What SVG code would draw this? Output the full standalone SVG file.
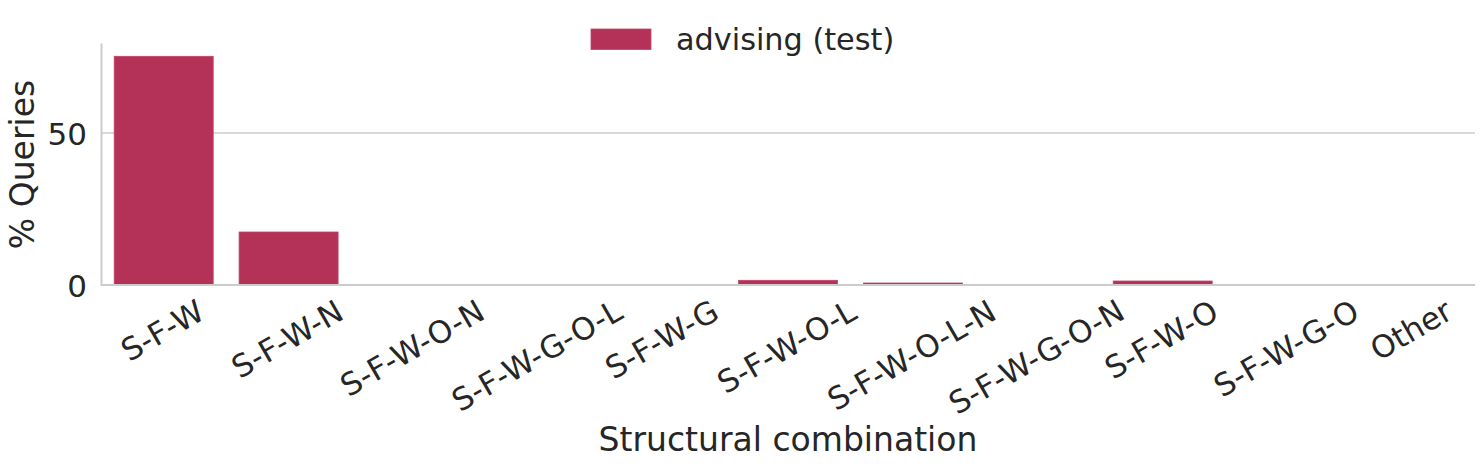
<svg xmlns="http://www.w3.org/2000/svg" width="1484" height="468" viewBox="0 0 1484 468">
  <style>
    text { font-family: "DejaVu Sans", "Liberation Sans", sans-serif; fill: #262626; }
    .tick { font-size: 31px; }
    .lab { font-size: 33px; }
    .leg { font-size: 30.3px; }
    .bar { fill: #b43157; stroke: #c04468; stroke-width: 0.8; }
    .grid { stroke: #cccccc; stroke-width: 1.5; fill: none; }
    .spine { stroke: #cccccc; stroke-width: 2; fill: none; }
  </style>
  <rect x="0" y="0" width="1484" height="468" fill="#ffffff"/>
  <g id="grid">
    <line class="grid" x1="101.5" y1="133" x2="1475" y2="133"/>
  </g>
  <g id="bars">
    <rect class="bar" x="114.2" y="56.3" width="99" height="228.7"/>
    <rect class="bar" x="239.1" y="232" width="99" height="53"/>
    <rect x="613.7" y="284" width="99" height="1" fill="#c98a9c" opacity="0.6"/>
    <rect class="bar" x="738.6" y="280.3" width="99" height="4.7"/>
    <rect class="bar" x="863.4" y="283" width="99" height="2"/>
    <rect class="bar" x="1113.2" y="281" width="99" height="4"/>
  </g>
  <g id="axes">
    <line class="spine" x1="101.5" y1="43.5" x2="101.5" y2="285"/>
    <line class="spine" x1="100.5" y1="285" x2="1475" y2="285"/>
  </g>
  <g id="yticks">
    <text class="tick" x="87" y="145" text-anchor="end">50</text>
    <text class="tick" x="87" y="297" text-anchor="end">0</text>
  </g>
  <g id="xticks">
    <text class="tick" transform="translate(163.7,332.9) rotate(-30)" y="8.2" text-anchor="middle">S-F-W</text>
    <text class="tick" transform="translate(288.6,341.5) rotate(-30)" y="8.2" text-anchor="middle">S-F-W-N</text>
    <text class="tick" transform="translate(413.5,350.4) rotate(-30)" y="8.2" text-anchor="middle">S-F-W-O-N</text>
    <text class="tick" transform="translate(538.3,357.8) rotate(-30)" y="8.2" text-anchor="middle">S-F-W-G-O-L</text>
    <text class="tick" transform="translate(663.2,341.7) rotate(-30)" y="8.2" text-anchor="middle">S-F-W-G</text>
    <text class="tick" transform="translate(788.1,348.9) rotate(-30)" y="8.2" text-anchor="middle">S-F-W-O-L</text>
    <text class="tick" transform="translate(912.9,357.6) rotate(-30)" y="8.2" text-anchor="middle">S-F-W-O-L-N</text>
    <text class="tick" transform="translate(1037.8,359.2) rotate(-30)" y="8.2" text-anchor="middle">S-F-W-G-O-N</text>
    <text class="tick" transform="translate(1162.7,341.8) rotate(-30)" y="8.2" text-anchor="middle">S-F-W-O</text>
    <text class="tick" transform="translate(1287.6,350.6) rotate(-30)" y="8.2" text-anchor="middle">S-F-W-G-O</text>
    <text class="tick" transform="translate(1412.4,332.3) rotate(-30)" y="8.2" text-anchor="middle">Other</text>
  </g>
  <g id="labels">
    <text class="lab" x="788" y="451" text-anchor="middle">Structural combination</text>
    <text class="lab" transform="translate(34,164.5) rotate(-90)" text-anchor="middle">% Queries</text>
  </g>
  <g id="legend">
    <rect class="bar" x="591" y="29" width="60" height="20.5"/>
    <text class="leg" x="676" y="49.5">advising (test)</text>
  </g>
</svg>
